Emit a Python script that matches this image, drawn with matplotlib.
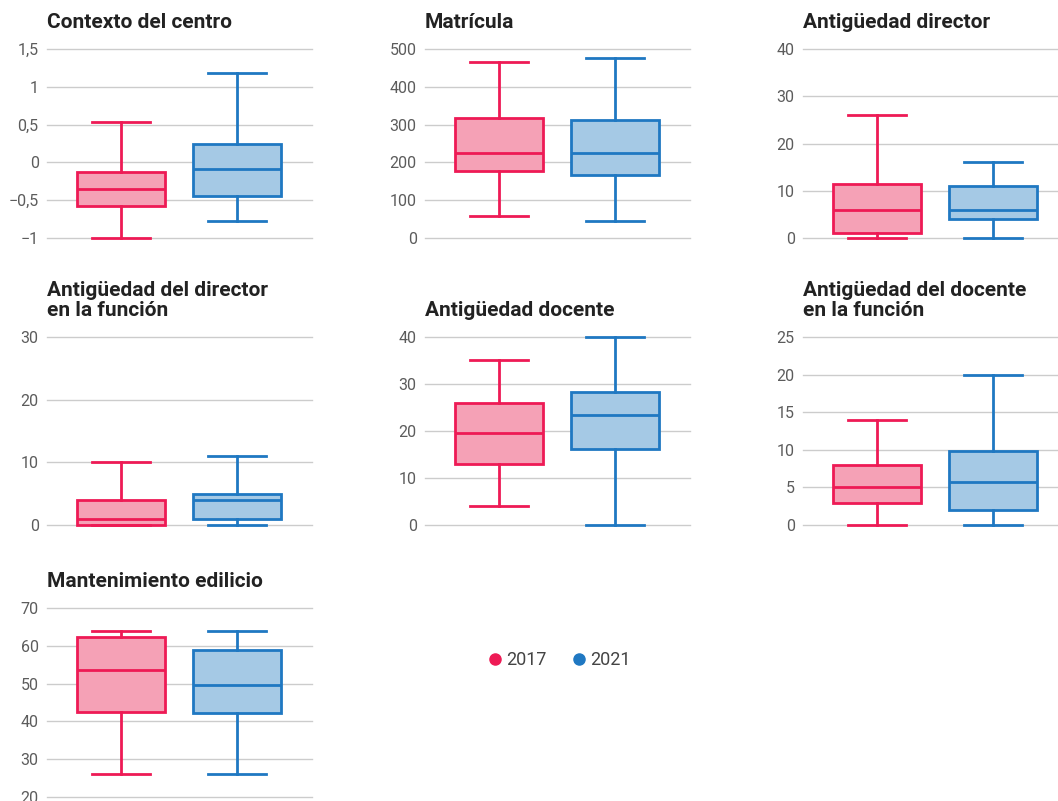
import matplotlib
matplotlib.use("Agg")
import matplotlib.pyplot as plt
from matplotlib.lines import Line2D
from matplotlib.ticker import FuncFormatter

plt.rcParams['font.family'] = ['Roboto', 'DejaVu Sans']

# box statistics per indicator: (low whisker, Q1, median, Q3, high whisker)
titles = [
    "Contexto del centro",
    "Matrícula",
    "Antigüedad director",
    "Antigüedad del director\nen la función",
    "Antigüedad docente",
    "Antigüedad del docente\nen la función",
    "Mantenimiento edilicio",
]
stats_2017 = [
    (-1.0, -0.58, -0.35, -0.13, 0.53),
    (58, 177, 225, 317, 466),
    (0, 1, 6, 11.4, 26),
    (0, 0, 1, 4, 10),
    (4, 13, 19.6, 26, 35),
    (0, 2.9, 5, 8, 14),
    (26.1, 42.5, 53.6, 62.3, 64),
]
stats_2021 = [
    (-0.77, -0.45, -0.09, 0.24, 1.18),
    (45, 167, 225, 312, 476),
    (0, 4, 6, 11, 16),
    (0, 1, 4, 5, 11),
    (0, 16.2, 23.4, 28.3, 40),
    (0, 2, 5.7, 9.8, 20),
    (26.1, 42.3, 49.6, 58.9, 64),
]
y_ticks = [
    [-1, -0.5, 0, 0.5, 1, 1.5],
    [0, 100, 200, 300, 400, 500],
    [0, 10, 20, 30, 40],
    [0, 10, 20, 30],
    [0, 10, 20, 30, 40],
    [0, 5, 10, 15, 20, 25],
    [20, 30, 40, 50, 60, 70],
]
years = ["2017", "2021"]

red = "#EE1A55"
blue = "#1F78C2"
red_fill = "#F5A1B6"
blue_fill = "#A5C9E5"


def fmt(v, pos):
    s = ("%g" % v).replace(".", ",")
    return s.replace("-", "\u2212")


W, H = 1058, 801
fig = plt.figure(figsize=(W / 100, H / 100), dpi=100)

col_left = [47, 425, 803]
row_span = [(49, 238), (337, 525), (608, 797)]

for i, title in enumerate(titles):
    r, c = divmod(i, 3)
    top, bot = row_span[r]
    ax = fig.add_axes([col_left[c] / W, 1 - bot / H, 265 / W, (bot - top) / H])

    bstats = []
    for s in (stats_2017[i], stats_2021[i]):
        lo, q1, med, q3, hi = s
        bstats.append(dict(whislo=lo, q1=q1, med=med, q3=q3, whishi=hi, fliers=[]))

    for k, (st, ec, fc) in enumerate(zip(bstats, [red, blue], [red_fill, blue_fill])):
        parts = ax.bxp([st], positions=[k + 1], widths=0.76, patch_artist=True,
                       showfliers=False, manage_ticks=False,
                       boxprops=dict(facecolor=fc, edgecolor=ec, linewidth=2.0),
                       medianprops=dict(color=ec, linewidth=2.0),
                       whiskerprops=dict(color=ec, linewidth=2.0),
                       capprops=dict(color=ec, linewidth=2.0),
                       capwidths=0.5)
        for group in parts.values():
            for art in group:
                art.set_clip_on(False)

    ax.set_xlim(0.363, 2.646)
    ax.set_ylim(y_ticks[i][0], y_ticks[i][-1])
    ax.set_yticks(y_ticks[i])
    ax.yaxis.set_major_formatter(FuncFormatter(fmt))
    ax.set_xticks([])
    ax.grid(axis="y", color="#cccccc", linewidth=1.0)
    ax.set_axisbelow(True)
    for gl in ax.yaxis.get_gridlines():
        gl.set_clip_on(False)
    for sp in ax.spines.values():
        sp.set_visible(False)
    ax.tick_params(axis="y", length=0, pad=6, labelsize=11.5, labelcolor="#5c5c5c")
    for lab in ax.get_yticklabels():
        lab.set_clip_on(False)

    ax.annotate(title, xy=(0, 1), xycoords="axes fraction",
                xytext=(0, 15), textcoords="offset points",
                ha="left", va="baseline", fontsize=15, fontweight="bold",
                color="#222222", linespacing=1.1)

handles = [Line2D([], [], marker="o", linestyle="", markersize=8,
                  markerfacecolor=col, markeredgecolor=col, label=y)
           for col, y in zip([red, blue], years)]
fig.legend(handles=handles, loc="center", bbox_to_anchor=(556 / W, 1 - 660 / H),
           ncol=2, frameon=False, fontsize=13, handletextpad=-0.1,
           columnspacing=1.0, handlelength=1.5, labelcolor="#444444")

fig.savefig("out.png", dpi=100)
